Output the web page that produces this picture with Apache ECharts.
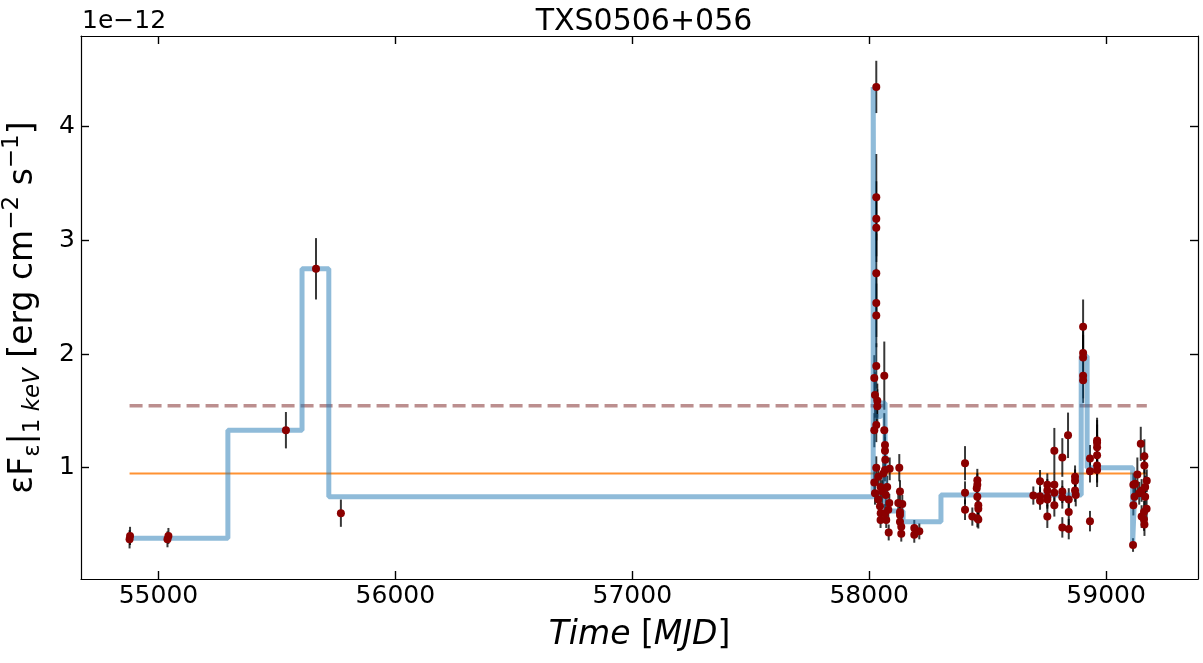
<!DOCTYPE html>
<html>
<head>
<meta charset="utf-8">
<script src="https://cdn.jsdelivr.net/npm/echarts@6/dist/echarts.min.js"></script>
<style>
html,body{margin:0;padding:0;background:#fff;}
#chart{width:1203px;height:663px;}
</style>
</head>
<body>
<div id="chart"></div>
<script>
// observations (MJD, flux in 1e-12 erg cm-2 s-1, 1 sigma error)
var obsMjd = [54878,54880,55038,55042,55538,55665,55770,
  58030,58030,58030,58030,58030,58030,58030,58030,58021.6,58063.8,58024.5,58034.3,58034.3,58030,58021.6,58063.8,
  58066.7,58066.7,58068,58030,58066.7,58086.6,58127.1,58021.6,58038.5,58059.6,58048,58076,58024.5,58055,58070,
  58130,58038.5,58084.9,58122.9,58139.8,58045.6,58080.7,58130,58048.6,58066.7,58130,58048,58072,58130,58135.5,
  58190.4,58211.6,58082.4,58135.5,58190.4,
  58404.6,58404.6,58404.6,58435.4,58456.5,58456.5,58454,58456.5,58460.7,58460.7,58456.5,58460.7,
  58692.9,58721.2,58721.2,58721.2,58752,58752,58752,58752,58752,58781.6,58781.6,58781.6,58781.6,
  58815.3,58815.3,58815.3,58815.3,58839.4,58842.4,58842.4,58842.4,58869,58869,58869,58872,
  58903,58903,58903,58903,58903,58932,58932,58932,58962,58962,58962,58962,58962,58962,
  59113.8,59115.1,59115.1,59122.3,59132,59146.4,59161.6,59161.6,59171.7,59165,59150,59140,59120,59165,59171,59160,59150,59160,59162];
var obsFlux = [0.37,0.40,0.37,0.40,1.33,2.75,0.60,
  4.35,3.38,3.19,3.11,2.71,2.45,2.34,1.895,1.79,1.81,1.64,1.59,1.54,1.375,1.33,1.33,
  1.20,1.15,1.07,1.00,0.98,0.99,1.00,0.87,0.92,0.95,0.83,0.83,0.775,0.79,0.76,
  0.79,0.72,0.69,0.69,0.68,0.66,0.63,0.61,0.60,0.60,0.585,0.54,0.54,0.525,0.48,
  0.47,0.44,0.43,0.42,0.41,
  1.04,0.78,0.63,0.57,0.89,0.85,0.82,0.745,0.67,0.64,0.555,0.545,
  0.755,0.88,0.75,0.71,0.85,0.80,0.74,0.72,0.57,1.15,0.85,0.78,0.67,
  1.09,0.79,0.74,0.475,1.285,0.72,0.61,0.46,0.92,0.885,0.80,0.76,
  2.24,2.01,1.97,1.81,1.77,1.08,0.97,0.53,1.24,1.22,1.18,1.11,1.02,0.98,
  0.32,0.67,0.85,0.86,0.94,1.21,1.10,1.02,0.885,0.83,0.80,0.775,0.745,0.745,0.64,0.61,0.57,0.545,0.50];
var obsErr = [0.08,0.08,0.07,0.07,0.16,0.27,0.12,
  0.23,0.38,0.33,0.30,0.35,0.30,0.28,0.20,0.20,0.30,0.20,0.15,0.15,0.15,0.15,0.15,
  0.12,0.12,0.10,0.10,0.10,0.10,0.12,0.10,0.10,0.10,0.10,0.10,0.10,0.10,0.10,
  0.10,0.08,0.08,0.08,0.08,0.08,0.08,0.08,0.08,0.08,0.08,0.07,0.07,0.07,0.07,
  0.07,0.07,0.07,0.07,0.07,
  0.15,0.10,0.09,0.08,0.10,0.10,0.10,0.10,0.10,0.10,0.08,0.08,
  0.08,0.10,0.08,0.08,0.10,0.10,0.08,0.08,0.10,0.20,0.10,0.10,0.10,
  0.17,0.10,0.10,0.09,0.20,0.10,0.12,0.09,0.10,0.10,0.10,0.10,
  0.24,0.20,0.20,0.20,0.20,0.12,0.10,0.09,0.20,0.20,0.20,0.18,0.15,0.15,
  0.06,0.09,0.10,0.10,0.15,0.15,0.15,0.12,0.10,0.10,0.10,0.10,0.10,0.10,0.10,0.10,0.10,0.10,0.10];

// bayesian blocks: edges and block levels
var blockEdges = [54878,55293,55606,55719,58017,58021,58050,58067,58143,58303,58895,58920,59112,59120,59172];
var blockLevels = [0.38,1.33,2.75,0.745,4.35,1.45,1.57,0.62,0.525,0.76,1.98,1.0,0.32,0.75];

var meanFlux = 0.95;
var threshFlux = 1.545;
var xTicks = [55000,56000,57000,58000,59000];
var yTicks = [1,2,3,4];
var xMin = 54673, xMax = 59388, yMin = 0.021, yMax = 4.798;

var FONT = 'DejaVu Sans';

var pts = [];
for (var i = 0; i < obsMjd.length; i++) pts.push([obsMjd[i], obsFlux[i], obsErr[i]]);

var steps = [];
for (var j = 0; j < blockLevels.length; j++) steps.push([blockEdges[j], blockLevels[j]]);
steps.push([blockEdges[blockEdges.length - 1], blockLevels[blockLevels.length - 1]]);

var tStart = blockEdges[0], tEnd = blockEdges[blockEdges.length - 1];

function plain(v) { return String(v); }

function axisX(pos, labels) {
  return {
    type: 'value', position: pos, min: xMin, max: xMax,
    axisLine: {show: true, onZero: false, lineStyle: {color: '#000', width: 1.2}},
    axisTick: {show: true, inside: true, length: 8, customValues: xTicks, lineStyle: {color: '#000', width: 1.4}},
    axisLabel: {show: labels, customValues: xTicks, formatter: plain, margin: 5, color: '#000', fontFamily: FONT, fontSize: 25},
    splitLine: {show: false}
  };
}
function axisY(pos, labels) {
  return {
    type: 'value', position: pos, min: yMin, max: yMax,
    axisLine: {show: true, onZero: false, lineStyle: {color: '#000', width: 1.2}},
    axisTick: {show: true, inside: true, length: 8, customValues: yTicks, lineStyle: {color: '#000', width: 1.4}},
    axisLabel: {show: labels, customValues: yTicks, formatter: plain, margin: 6, color: '#000', fontFamily: FONT, fontSize: 25},
    splitLine: {show: false}
  };
}

var xa = axisX('bottom', true);
xa.name = '{i|Time} {r|[}{i|MJD}{r|]}';
xa.nameLocation = 'middle';
xa.nameGap = 40;
xa.nameTextStyle = {
  color: '#000', fontFamily: FONT, fontSize: 33,
  rich: {i: {fontFamily: FONT, fontSize: 33, fontStyle: 'italic', color: '#000'},
         r: {fontFamily: FONT, fontSize: 33, color: '#000'}}
};
var ya = axisY('left', true);
ya.name = '{m|εF}{s|ε}{m||}{s|1 }{si|keV}{m| [erg cm}{p|−2}{m| s}{p|−1}{m|]}';
ya.nameLocation = 'middle';
ya.nameRotate = 90;
ya.nameGap = 36;
ya.nameTextStyle = {
  color: '#000', fontFamily: FONT, fontSize: 33,
  rich: {
    m: {fontFamily: FONT, fontSize: 33, color: '#000', lineHeight: 44},
    s: {fontFamily: FONT, fontSize: 23, color: '#000', verticalAlign: 'bottom', lineHeight: 44},
    si: {fontFamily: FONT, fontSize: 23, fontStyle: 'italic', color: '#000', verticalAlign: 'bottom', lineHeight: 44},
    p: {fontFamily: FONT, fontSize: 23, color: '#000', verticalAlign: 'top', lineHeight: 44}
  }
};

var chart = echarts.init(document.getElementById('chart'));
chart.setOption({
  animation: false,
  backgroundColor: '#fff',
  title: {
    text: 'TXS0506+056', left: 639, top: 2, textAlign: 'center',
    textStyle: {fontFamily: FONT, fontSize: 30, fontWeight: 'normal', color: '#000'}
  },
  graphic: [{
    type: 'text', left: 82, top: 9,
    style: {text: '1e\u221212', fontFamily: FONT, fontSize: 25, fill: '#000'}
  }],
  grid: {left: 81, right: 5, top: 36, bottom: 84, containLabel: false, outerBoundsMode: 'none'},
  xAxis: [xa, axisX('top', false)],
  yAxis: [ya, axisY('right', false)],
  series: [
    {
      type: 'line', z: 1, symbol: 'none', silent: true,
      data: [[tStart, meanFlux], [tEnd, meanFlux]],
      lineStyle: {color: '#ff7f0e', width: 2, opacity: 0.85}
    },
    {
      type: 'line', z: 1, symbol: 'none', silent: true,
      data: [[tStart, threshFlux], [tEnd, threshFlux]],
      lineStyle: {color: '#bc8f8f', width: 3.5, type: [13, 6]}
    },
    {
      type: 'custom', z: 2, silent: true,
      data: pts,
      encode: {x: 0, y: 1},
      renderItem: function (params, api) {
        var x = api.value(0), y = api.value(1), e = api.value(2);
        var a = api.coord([x, y - e]), b = api.coord([x, y + e]);
        return {type: 'line', shape: {x1: a[0], y1: a[1], x2: b[0], y2: b[1]},
                style: {stroke: '#000', lineWidth: 2, opacity: 0.78}};
      }
    },
    {
      type: 'line', z: 3, symbol: 'none', step: 'end', silent: true,
      data: steps,
      lineStyle: {color: '#1f77b4', width: 5, opacity: 0.5}
    },
    {
      type: 'scatter', z: 4, symbolSize: 8, silent: true,
      data: pts,
      itemStyle: {color: '#8b0000', opacity: 1}
    }
  ]
});
</script>
</body>
</html>
